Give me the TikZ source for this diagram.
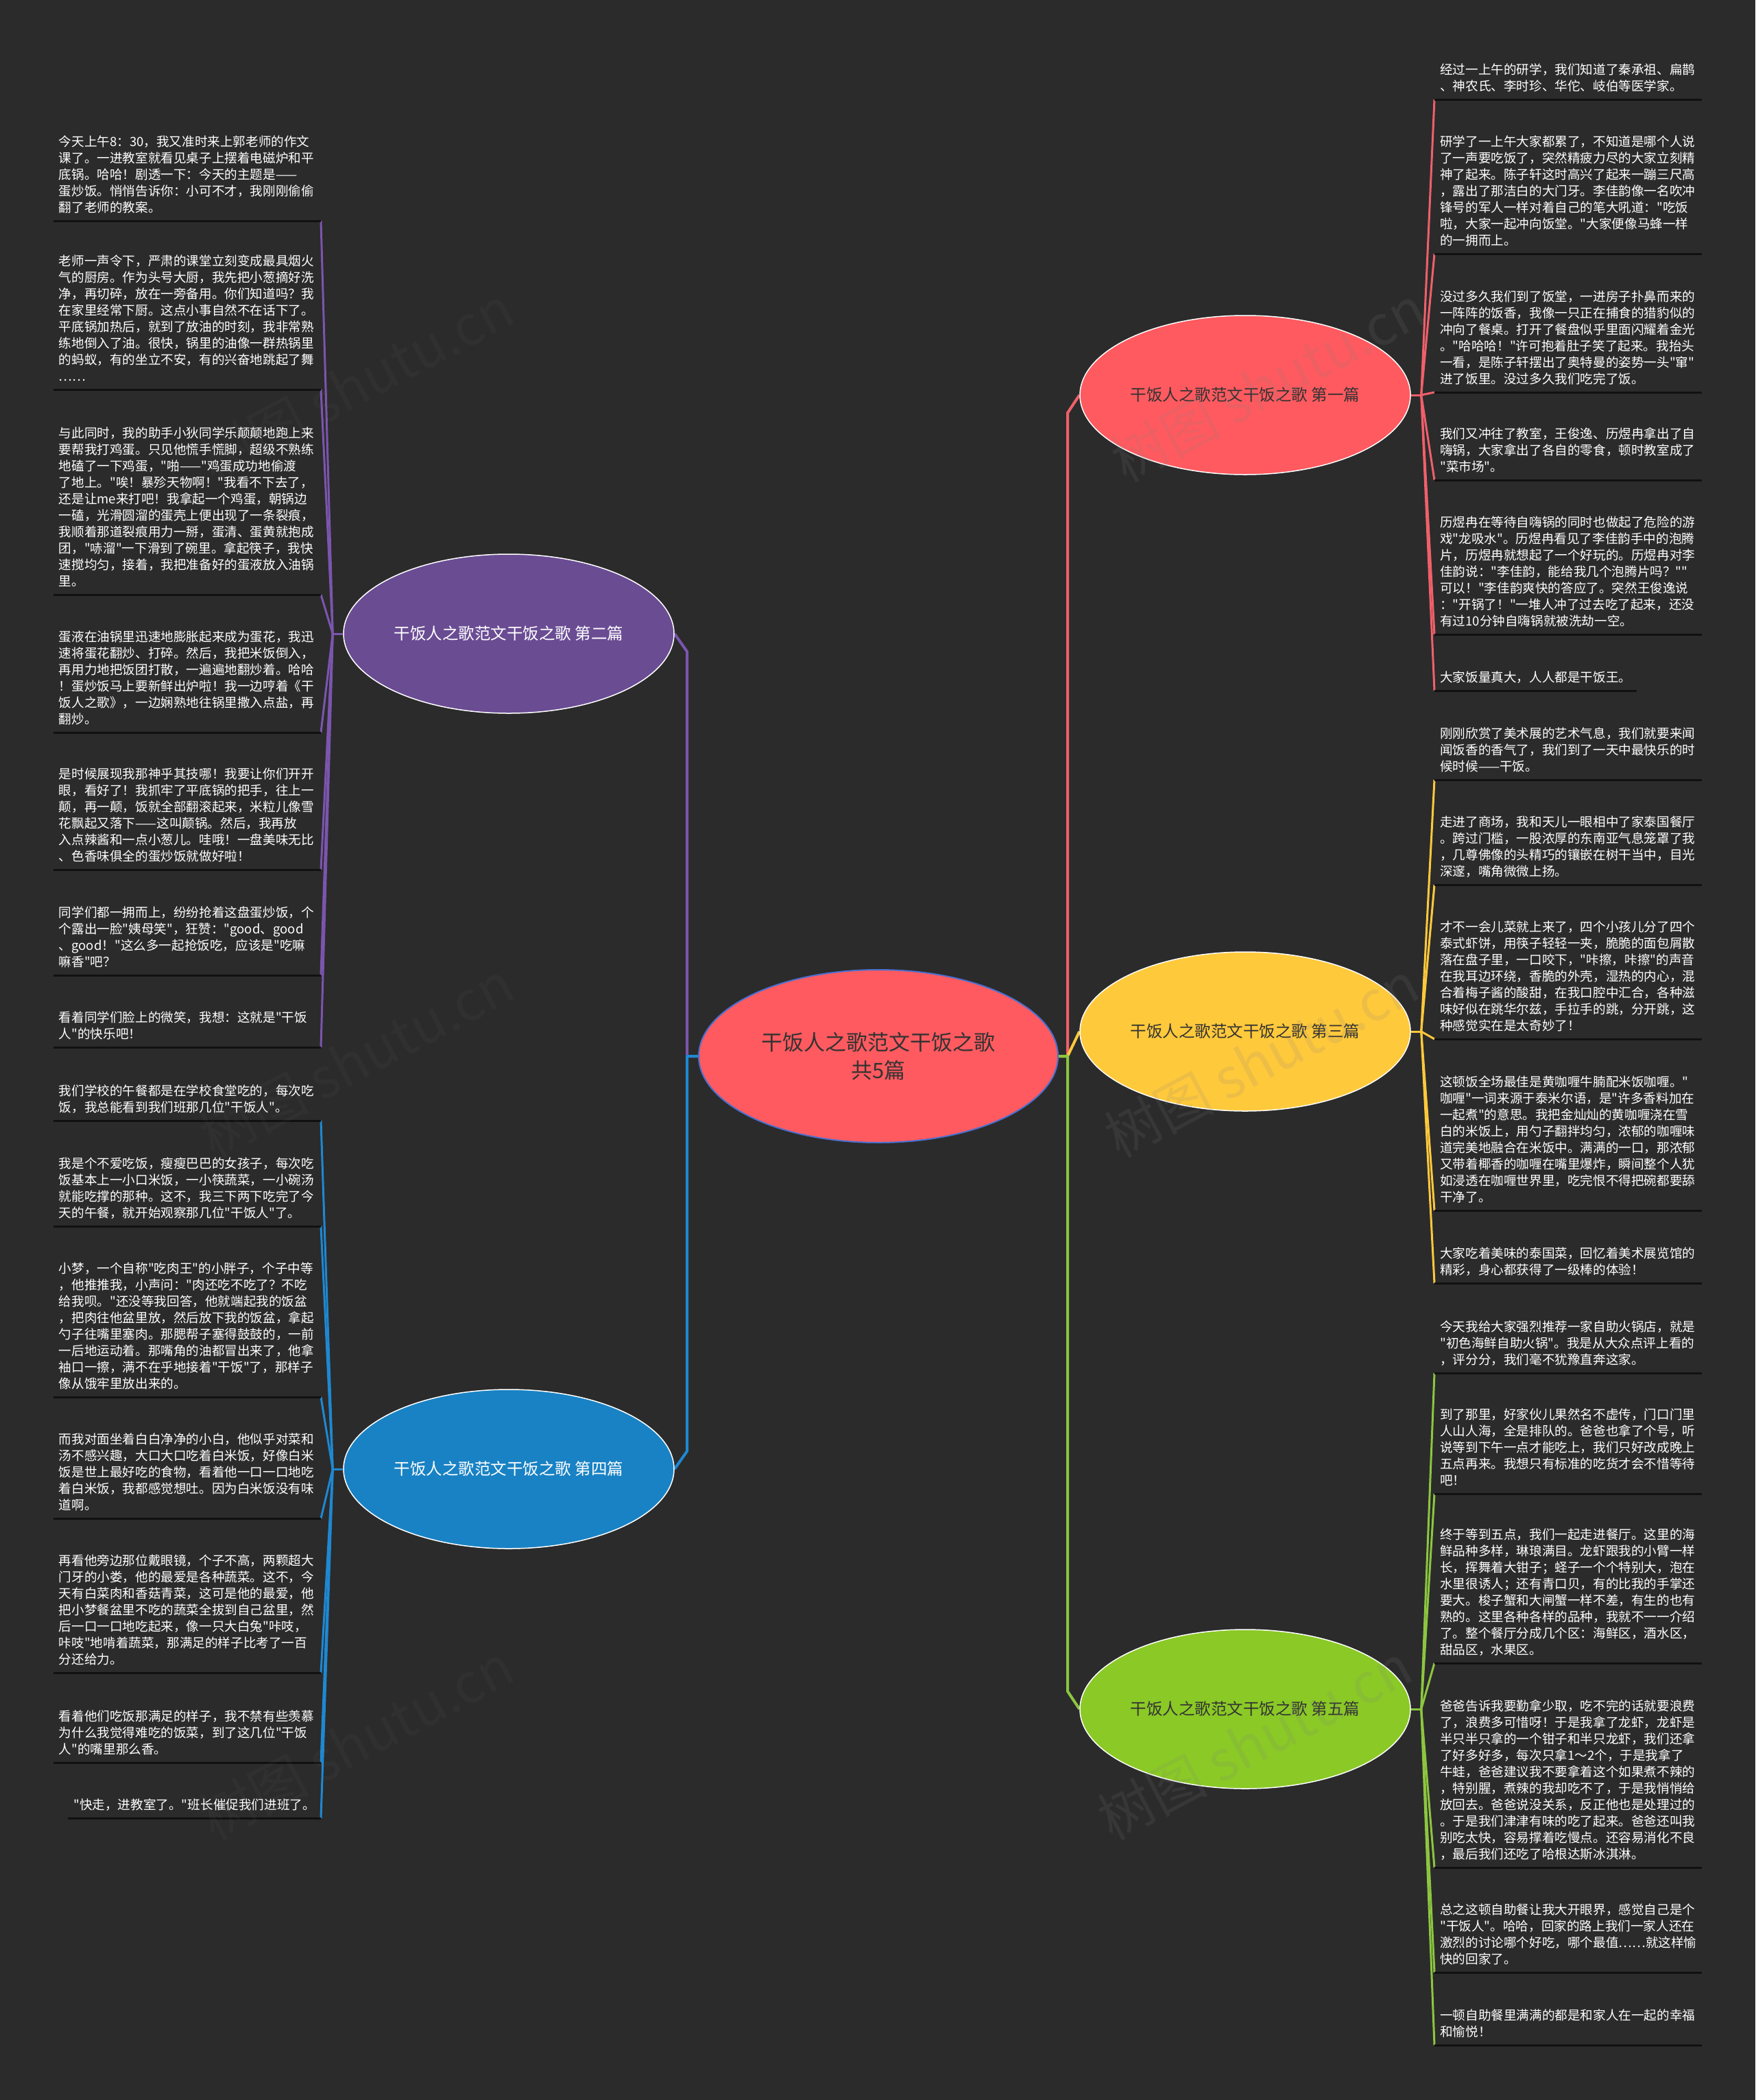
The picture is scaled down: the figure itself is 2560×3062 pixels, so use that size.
\documentclass[tikz,border=0pt]{standalone}
\usepackage{fontspec}
\setmainfont{Noto Sans CJK SC}
\newfontfamily\cjk{Noto Sans CJK SC}
\usetikzlibrary{shapes.geometric}
\pgfdeclarelayer{backlayer}
\pgfdeclarelayer{linelayer}
\pgfsetlayers{backlayer,linelayer,main}
\definecolor{bg}{HTML}{2B2B2B}
\definecolor{ulc}{HTML}{111111}
\definecolor{cred}{HTML}{FF5A5F}
\definecolor{lred}{HTML}{F0606A}
\definecolor{cpur}{HTML}{6A4C93}
\definecolor{lpur}{HTML}{7B55AE}
\definecolor{cyel}{HTML}{FFC93C}
\definecolor{cblu}{HTML}{1982C4}
\definecolor{lblu}{HTML}{1E88D2}
\definecolor{cgrn}{HTML}{8AC926}
\definecolor{lgrn}{HTML}{8CC63F}
\definecolor{dtxt}{HTML}{333333}
\definecolor{cbord}{HTML}{4A6FD0}
\newcommand\lfstrut{\rule[-7pt]{0pt}{24pt}}
\newcommand\leaffont{\cjk\fontsize{18.6pt}{24pt}\selectfont}
\newcommand\branchfont{\cjk\fontsize{23.5pt}{28pt}\selectfont}
\newcommand\centerfont{\cjk\fontsize{31pt}{41pt}\selectfont}
\tikzset{
  leaf/.style={font=\leaffont, text=white, align=left, inner xsep=8pt, inner ysep=5pt, text width=374pt},
  leafs/.style={font=\leaffont, text=white, align=left, inner xsep=8pt, inner ysep=5pt},
  uline/.style={draw=ulc, line width=3pt},
  fan/.style={line width=3pt},
  main/.style={line width=4pt, line join=round},
  branch/.style={ellipse, draw=white, line width=1.5pt, inner sep=0pt, minimum width=482pt, minimum height=232pt, font=\branchfont},
  centre/.style={ellipse, draw=cbord, line width=2pt, fill=cred, inner sep=0pt, minimum width=524pt, minimum height=252pt, font=\centerfont, text=dtxt, align=center},
  wm/.style={font=\cjk\fontsize{80pt}{80pt}\selectfont, text=gray, opacity=0.14}
}
\begin{document}
\begin{tikzpicture}[x=1pt,y=-1pt]
\begin{pgfonlayer}{backlayer}
\fill[bg] (0,0) rectangle (2560,3062);
\end{pgfonlayer}
\useasboundingbox (0,0) rectangle (2560,3062);

% ---------- centre and branch nodes ----------
\node[centre] (c) at (1281,1540) {干饭人之歌范文干饭之歌\\共5篇};
\path (c.west) ++(-16,0) coordinate (jl);
\path (c.east) ++(13,0) coordinate (jr);

\node[branch, fill=cred, text=dtxt] (n1) at (1816,576) {干饭人之歌范文干饭之歌 第一篇};
\node[branch, fill=cpur, text=white] (n2) at (742,924) {干饭人之歌范文干饭之歌 第二篇};
\node[branch, fill=cyel, text=dtxt] (n3) at (1816,1504) {干饭人之歌范文干饭之歌 第三篇};
\node[branch, fill=cblu, text=white] (n4) at (742,2142) {干饭人之歌范文干饭之歌 第四篇};
\node[branch, fill=cgrn, text=dtxt] (n5) at (1816,2492) {干饭人之歌范文干饭之歌 第五篇};

% ---------- left leaves ----------
\node[leaf, anchor=south east] (l1) at (468,322) {\lfstrut 今天上午8：30，我又准时来上郭老师的作文\\课了。一进教室就看见桌子上摆着电磁炉和平\\底锅。哈哈！剧透一下：今天的主题是——\\蛋炒饭。悄悄告诉你：小可不才，我刚刚偷偷\\翻了老师的教案。\lfstrut};
\node[leaf, anchor=south east] (l2) at (468,568) {\lfstrut 老师一声令下，严肃的课堂立刻变成最具烟火\\气的厨房。作为头号大厨，我先把小葱摘好洗\\净，再切碎，放在一旁备用。你们知道吗？我\\在家里经常下厨。这点小事自然不在话下了。\\平底锅加热后，就到了放油的时刻，我非常熟\\练地倒入了油。很快，锅里的油像一群热锅里\\的蚂蚁，有的坐立不安，有的兴奋地跳起了舞\\……\lfstrut};
\node[leaf, anchor=south east] (l3) at (468,867) {\lfstrut 与此同时，我的助手小狄同学乐颠颠地跑上来\\要帮我打鸡蛋。只见他慌手慌脚，超级不熟练\\地磕了一下鸡蛋，"啪——"鸡蛋成功地偷渡\\了地上。"唉！暴殄天物啊！"我看不下去了，\\还是让me来打吧！我拿起一个鸡蛋，朝锅边\\一磕，光滑圆溜的蛋壳上便出现了一条裂痕，\\我顺着那道裂痕用力一掰，蛋清、蛋黄就抱成\\团，"哧溜"一下滑到了碗里。拿起筷子，我快\\速搅均匀，接着，我把准备好的蛋液放入油锅\\里。\lfstrut};
\node[leaf, anchor=south east] (l4) at (468,1068) {\lfstrut 蛋液在油锅里迅速地膨胀起来成为蛋花，我迅\\速将蛋花翻炒、打碎。然后，我把米饭倒入，\\再用力地把饭团打散，一遍遍地翻炒着。哈哈\\！蛋炒饭马上要新鲜出炉啦！我一边哼着《干\\饭人之歌》，一边娴熟地往锅里撒入点盐，再\\翻炒。\lfstrut};
\node[leaf, anchor=south east] (l5) at (468,1268) {\lfstrut 是时候展现我那神乎其技哪！我要让你们开开\\眼，看好了！我抓牢了平底锅的把手，往上一\\颠，再一颠，饭就全部翻滚起来，米粒儿像雪\\花飘起又落下——这叫颠锅。然后，我再放\\入点辣酱和一点小葱儿。哇哦！一盘美味无比\\、色香味俱全的蛋炒饭就做好啦！\lfstrut};
\node[leaf, anchor=south east] (l6) at (468,1422) {\lfstrut 同学们都一拥而上，纷纷抢着这盘蛋炒饭，个\\个露出一脸"姨母笑"，狂赞："good、good\\、good！"这么多一起抢饭吃，应该是"吃嘛\\嘛香"吧？\lfstrut};
\node[leaf, anchor=south east] (l7) at (468,1527) {\lfstrut 看着同学们脸上的微笑，我想：这就是"干饭\\人"的快乐吧！\lfstrut};
\node[leaf, anchor=south east] (l8) at (468,1634) {\lfstrut 我们学校的午餐都是在学校食堂吃的，每次吃\\饭，我总能看到我们班那几位"干饭人"。\lfstrut};
\node[leaf, anchor=south east] (l9) at (468,1788) {\lfstrut 我是个不爱吃饭，瘦瘦巴巴的女孩子，每次吃\\饭基本上一小口米饭，一小筷蔬菜，一小碗汤\\就能吃撑的那种。这不，我三下两下吃完了今\\天的午餐，就开始观察那几位"干饭人"了。\lfstrut};
\node[leaf, anchor=south east] (l10) at (468,2037) {\lfstrut 小梦，一个自称"吃肉王"的小胖子，个子中等\\，他推推我，小声问："肉还吃不吃了？不吃\\给我呗。"还没等我回答，他就端起我的饭盆\\，把肉往他盆里放，然后放下我的饭盆，拿起\\勺子往嘴里塞肉。那腮帮子塞得鼓鼓的，一前\\一后地运动着。那嘴角的油都冒出来了，他拿\\袖口一擦，满不在乎地接着"干饭"了，那样子\\像从饿牢里放出来的。\lfstrut};
\node[leaf, anchor=south east] (l11) at (468,2214) {\lfstrut 而我对面坐着白白净净的小白，他似乎对菜和\\汤不感兴趣，大口大口吃着白米饭，好像白米\\饭是世上最好吃的食物，看着他一口一口地吃\\着白米饭，我都感觉想吐。因为白米饭没有味\\道啊。\lfstrut};
\node[leaf, anchor=south east] (l12) at (468,2439) {\lfstrut 再看他旁边那位戴眼镜，个子不高，两颗超大\\门牙的小娄，他的最爱是各种蔬菜。这不，今\\天有白菜肉和香菇青菜，这可是他的最爱，他\\把小梦餐盆里不吃的蔬菜全拔到自己盆里，然\\后一口一口地吃起来，像一只大白兔"咔吱，\\咔吱"地啃着蔬菜，那满足的样子比考了一百\\分还给力。\lfstrut};
\node[leaf, anchor=south east] (l13) at (468,2570) {\lfstrut 看着他们吃饭那满足的样子，我不禁有些羡慕\\为什么我觉得难吃的饭菜，到了这几位"干饭\\人"的嘴里那么香。\lfstrut};
\node[leafs, anchor=south east] (l14) at (468,2651) {\lfstrut "快走，进教室了。"班长催促我们进班了。\lfstrut};

% ---------- right leaves ----------
\node[leaf, anchor=south west] (r1) at (2092,145) {\lfstrut 经过一上午的研学，我们知道了秦承祖、扁鹊\\、神农氏、李时珍、华佗、岐伯等医学家。\lfstrut};
\node[leaf, anchor=south west] (r2) at (2092,370) {\lfstrut 研学了一上午大家都累了，不知道是哪个人说\\了一声要吃饭了，突然精疲力尽的大家立刻精\\神了起来。陈子轩这时高兴了起来一蹦三尺高\\，露出了那洁白的大门牙。李佳韵像一名吹冲\\锋号的军人一样对着自己的笔大吼道："吃饭\\啦，大家一起冲向饭堂。"大家便像马蜂一样\\的一拥而上。\lfstrut};
\node[leaf, anchor=south west] (r3) at (2092,572) {\lfstrut 没过多久我们到了饭堂，一进房子扑鼻而来的\\一阵阵的饭香，我像一只正在捕食的猎豹似的\\冲向了餐桌。打开了餐盘似乎里面闪耀着金光\\。"哈哈哈！"许可抱着肚子笑了起来。我抬头\\一看，是陈子轩摆出了奥特曼的姿势一头"窜"\\进了饭里。没过多久我们吃完了饭。\lfstrut};
\node[leaf, anchor=south west] (r4) at (2092,700) {\lfstrut 我们又冲往了教室，王俊逸、历煜冉拿出了自\\嗨锅，大家拿出了各自的零食，顿时教室成了\\"菜市场"。\lfstrut};
\node[leaf, anchor=south west] (r5) at (2092,925) {\lfstrut 历煜冉在等待自嗨锅的同时也做起了危险的游\\戏"龙吸水"。历煜冉看见了李佳韵手中的泡腾\\片，历煜冉就想起了一个好玩的。历煜冉对李\\佳韵说："李佳韵，能给我几个泡腾片吗？""\\可以！"李佳韵爽快的答应了。突然王俊逸说\\："开锅了！"一堆人冲了过去吃了起来，还没\\有过10分钟自嗨锅就被洗劫一空。\lfstrut};
\node[leafs, anchor=south west] (r6) at (2092,1007) {\lfstrut 大家饭量真大，人人都是干饭王。\lfstrut};
\node[leaf, anchor=south west] (r7) at (2092,1137) {\lfstrut 刚刚欣赏了美术展的艺术气息，我们就要来闻\\闻饭香的香气了，我们到了一天中最快乐的时\\候时候——干饭。\lfstrut};
\node[leaf, anchor=south west] (r8) at (2092,1290) {\lfstrut 走进了商场，我和天儿一眼相中了家泰国餐厅\\。跨过门槛，一股浓厚的东南亚气息笼罩了我\\，几尊佛像的头精巧的镶嵌在树干当中，目光\\深邃，嘴角微微上扬。\lfstrut};
\node[leaf, anchor=south west] (r9) at (2092,1515) {\lfstrut 才不一会儿菜就上来了，四个小孩儿分了四个\\泰式虾饼，用筷子轻轻一夹，脆脆的面包屑散\\落在盘子里，一口咬下，"咔擦，咔擦"的声音\\在我耳边环绕，香脆的外壳，湿热的内心，混\\合着梅子酱的酸甜，在我口腔中汇合，各种滋\\味好似在跳华尔兹，手拉手的跳，分开跳，这\\种感觉实在是太奇妙了！\lfstrut};
\node[leaf, anchor=south west] (r10) at (2092,1765) {\lfstrut 这顿饭全场最佳是黄咖喱牛腩配米饭咖喱。"\\咖喱"一词来源于泰米尔语，是"许多香料加在\\一起煮"的意思。我把金灿灿的黄咖喱浇在雪\\白的米饭上，用勺子翻拌均匀，浓郁的咖喱味\\道完美地融合在米饭中。满满的一口，那浓郁\\又带着椰香的咖喱在嘴里爆炸，瞬间整个人犹\\如浸透在咖喱世界里，吃完恨不得把碗都要舔\\干净了。\lfstrut};
\node[leaf, anchor=south west] (r11) at (2092,1871) {\lfstrut 大家吃着美味的泰国菜，回忆着美术展览馆的\\精彩，身心都获得了一级棒的体验！\lfstrut};
\node[leaf, anchor=south west] (r12) at (2092,2002) {\lfstrut 今天我给大家强烈推荐一家自助火锅店，就是\\"初色海鲜自助火锅"。我是从大众点评上看的\\，评分分，我们毫不犹豫直奔这家。\lfstrut};
\node[leaf, anchor=south west] (r13) at (2092,2178) {\lfstrut 到了那里，好家伙儿果然名不虚传，门口门里\\人山人海，全是排队的。爸爸也拿了个号，听\\说等到下午一点才能吃上，我们只好改成晚上\\五点再来。我想只有标准的吃货才会不惜等待\\吧！\lfstrut};
\node[leaf, anchor=south west] (r14) at (2092,2425) {\lfstrut 终于等到五点，我们一起走进餐厅。这里的海\\鲜品种多样，琳琅满目。龙虾跟我的小臂一样\\长，挥舞着大钳子；蛏子一个个特别大，泡在\\水里很诱人；还有青口贝，有的比我的手掌还\\要大。梭子蟹和大闸蟹一样不差，有生的也有\\熟的。这里各种各样的品种，我就不一一介绍\\了。整个餐厅分成几个区：海鲜区，酒水区，\\甜品区，水果区。\lfstrut};
\node[leaf, anchor=south west] (r15) at (2092,2723) {\lfstrut 爸爸告诉我要勤拿少取，吃不完的话就要浪费\\了，浪费多可惜呀！于是我拿了龙虾，龙虾是\\半只半只拿的一个钳子和半只龙虾，我们还拿\\了好多好多，每次只拿1～2个，于是我拿了\\牛蛙，爸爸建议我不要拿着这个如果煮不辣的\\，特别腥，煮辣的我却吃不了，于是我悄悄给\\放回去。爸爸说没关系，反正他也是处理过的\\。于是我们津津有味的吃了起来。爸爸还叫我\\别吃太快，容易撑着吃慢点。还容易消化不良\\，最后我们还吃了哈根达斯冰淇淋。\lfstrut};
\node[leaf, anchor=south west] (r16) at (2092,2876) {\lfstrut 总之这顿自助餐让我大开眼界，感觉自己是个\\"干饭人"。哈哈，回家的路上我们一家人还在\\激烈的讨论哪个好吃，哪个最值……就这样愉\\快的回家了。\lfstrut};
\node[leaf, anchor=south west] (r17) at (2092,2982) {\lfstrut 一顿自助餐里满满的都是和家人在一起的幸福\\和愉悦！\lfstrut};

% ---------- fan points ----------
\path (n1.east) ++(15,0) coordinate (f1);
\path (n2.west) ++(-15,0) coordinate (f2);
\path (n3.east) ++(15,0) coordinate (f3);
\path (n4.west) ++(-15,0) coordinate (f4);
\path (n5.east) ++(15,0) coordinate (f5);

\path (jl |- n2.east) ++(0,26) coordinate (k2);
\path (jl |- n4.east) ++(0,-26) coordinate (k4);
\path (jr |- n1.west) ++(0,26) coordinate (k1);
\path (jr |- n5.west) ++(0,-26) coordinate (k5);

\begin{pgfonlayer}{linelayer}
\foreach \n in {l1,l2,l3,l4,l5,l6,l7} \draw[fan, lpur] (f2) -- (\n.south east);
\foreach \n in {l8,l9,l10,l11,l12,l13,l14} \draw[fan, lblu] (f4) -- (\n.south east);
\foreach \n in {r1,r2,r3,r4,r5,r6} \draw[fan, lred] (f1) -- (\n.south west);
\foreach \n in {r7,r8,r9,r10,r11} \draw[fan, cyel] (f3) -- (\n.south west);
\foreach \n in {r12,r13,r14,r15,r16,r17} \draw[fan, lgrn] (f5) -- (\n.south west);
\draw[fan, lpur] (n2.west) -- (f2);
\draw[fan, lblu] (n4.west) -- (f4);
\draw[fan, lred] (n1.east) -- (f1);
\draw[fan, cyel] (n3.east) -- (f3);
\draw[fan, lgrn] (n5.east) -- (f5);
\draw[main, lpur] (c.west) -- (jl) -- (k2) -- (n2.east);
\draw[main, lblu] (c.west) -- (jl) -- (k4) -- (n4.east);
\draw[main, lred] (c.east) -- (jr) -- (k1) -- (n1.west);
\draw[main, cyel] (c.east) -- (jr) -- (n3.west);
\draw[main, lgrn] (c.east) -- (jr) -- (k5) -- (n5.west);
\foreach \n in {l1,l2,l3,l4,l5,l6,l7,l8,l9,l10,l11,l12,l13,l14,r1,r2,r3,r4,r5,r6,r7,r8,r9,r10,r11,r12,r13,r14,r15,r16,r17}
  \draw[uline] (\n.south west) -- (\n.south east);
\end{pgfonlayer}

% ---------- watermarks ----------
\node[wm, rotate=28] (w1) at (1850,560) {树图 shutu.cn};
\node[wm, rotate=28] (w2) at (1840,1545) {树图 shutu.cn};
\node[wm, rotate=28] (w3) at (1830,2540) {树图 shutu.cn};
\node[wm, rotate=28, opacity=0.06] (w4) at (520,560) {树图 shutu.cn};
\node[wm, rotate=28, opacity=0.06] (w5) at (520,1545) {树图 shutu.cn};
\node[wm, rotate=28, opacity=0.06] (w6) at (520,2540) {树图 shutu.cn};
\end{tikzpicture}
\end{document}
